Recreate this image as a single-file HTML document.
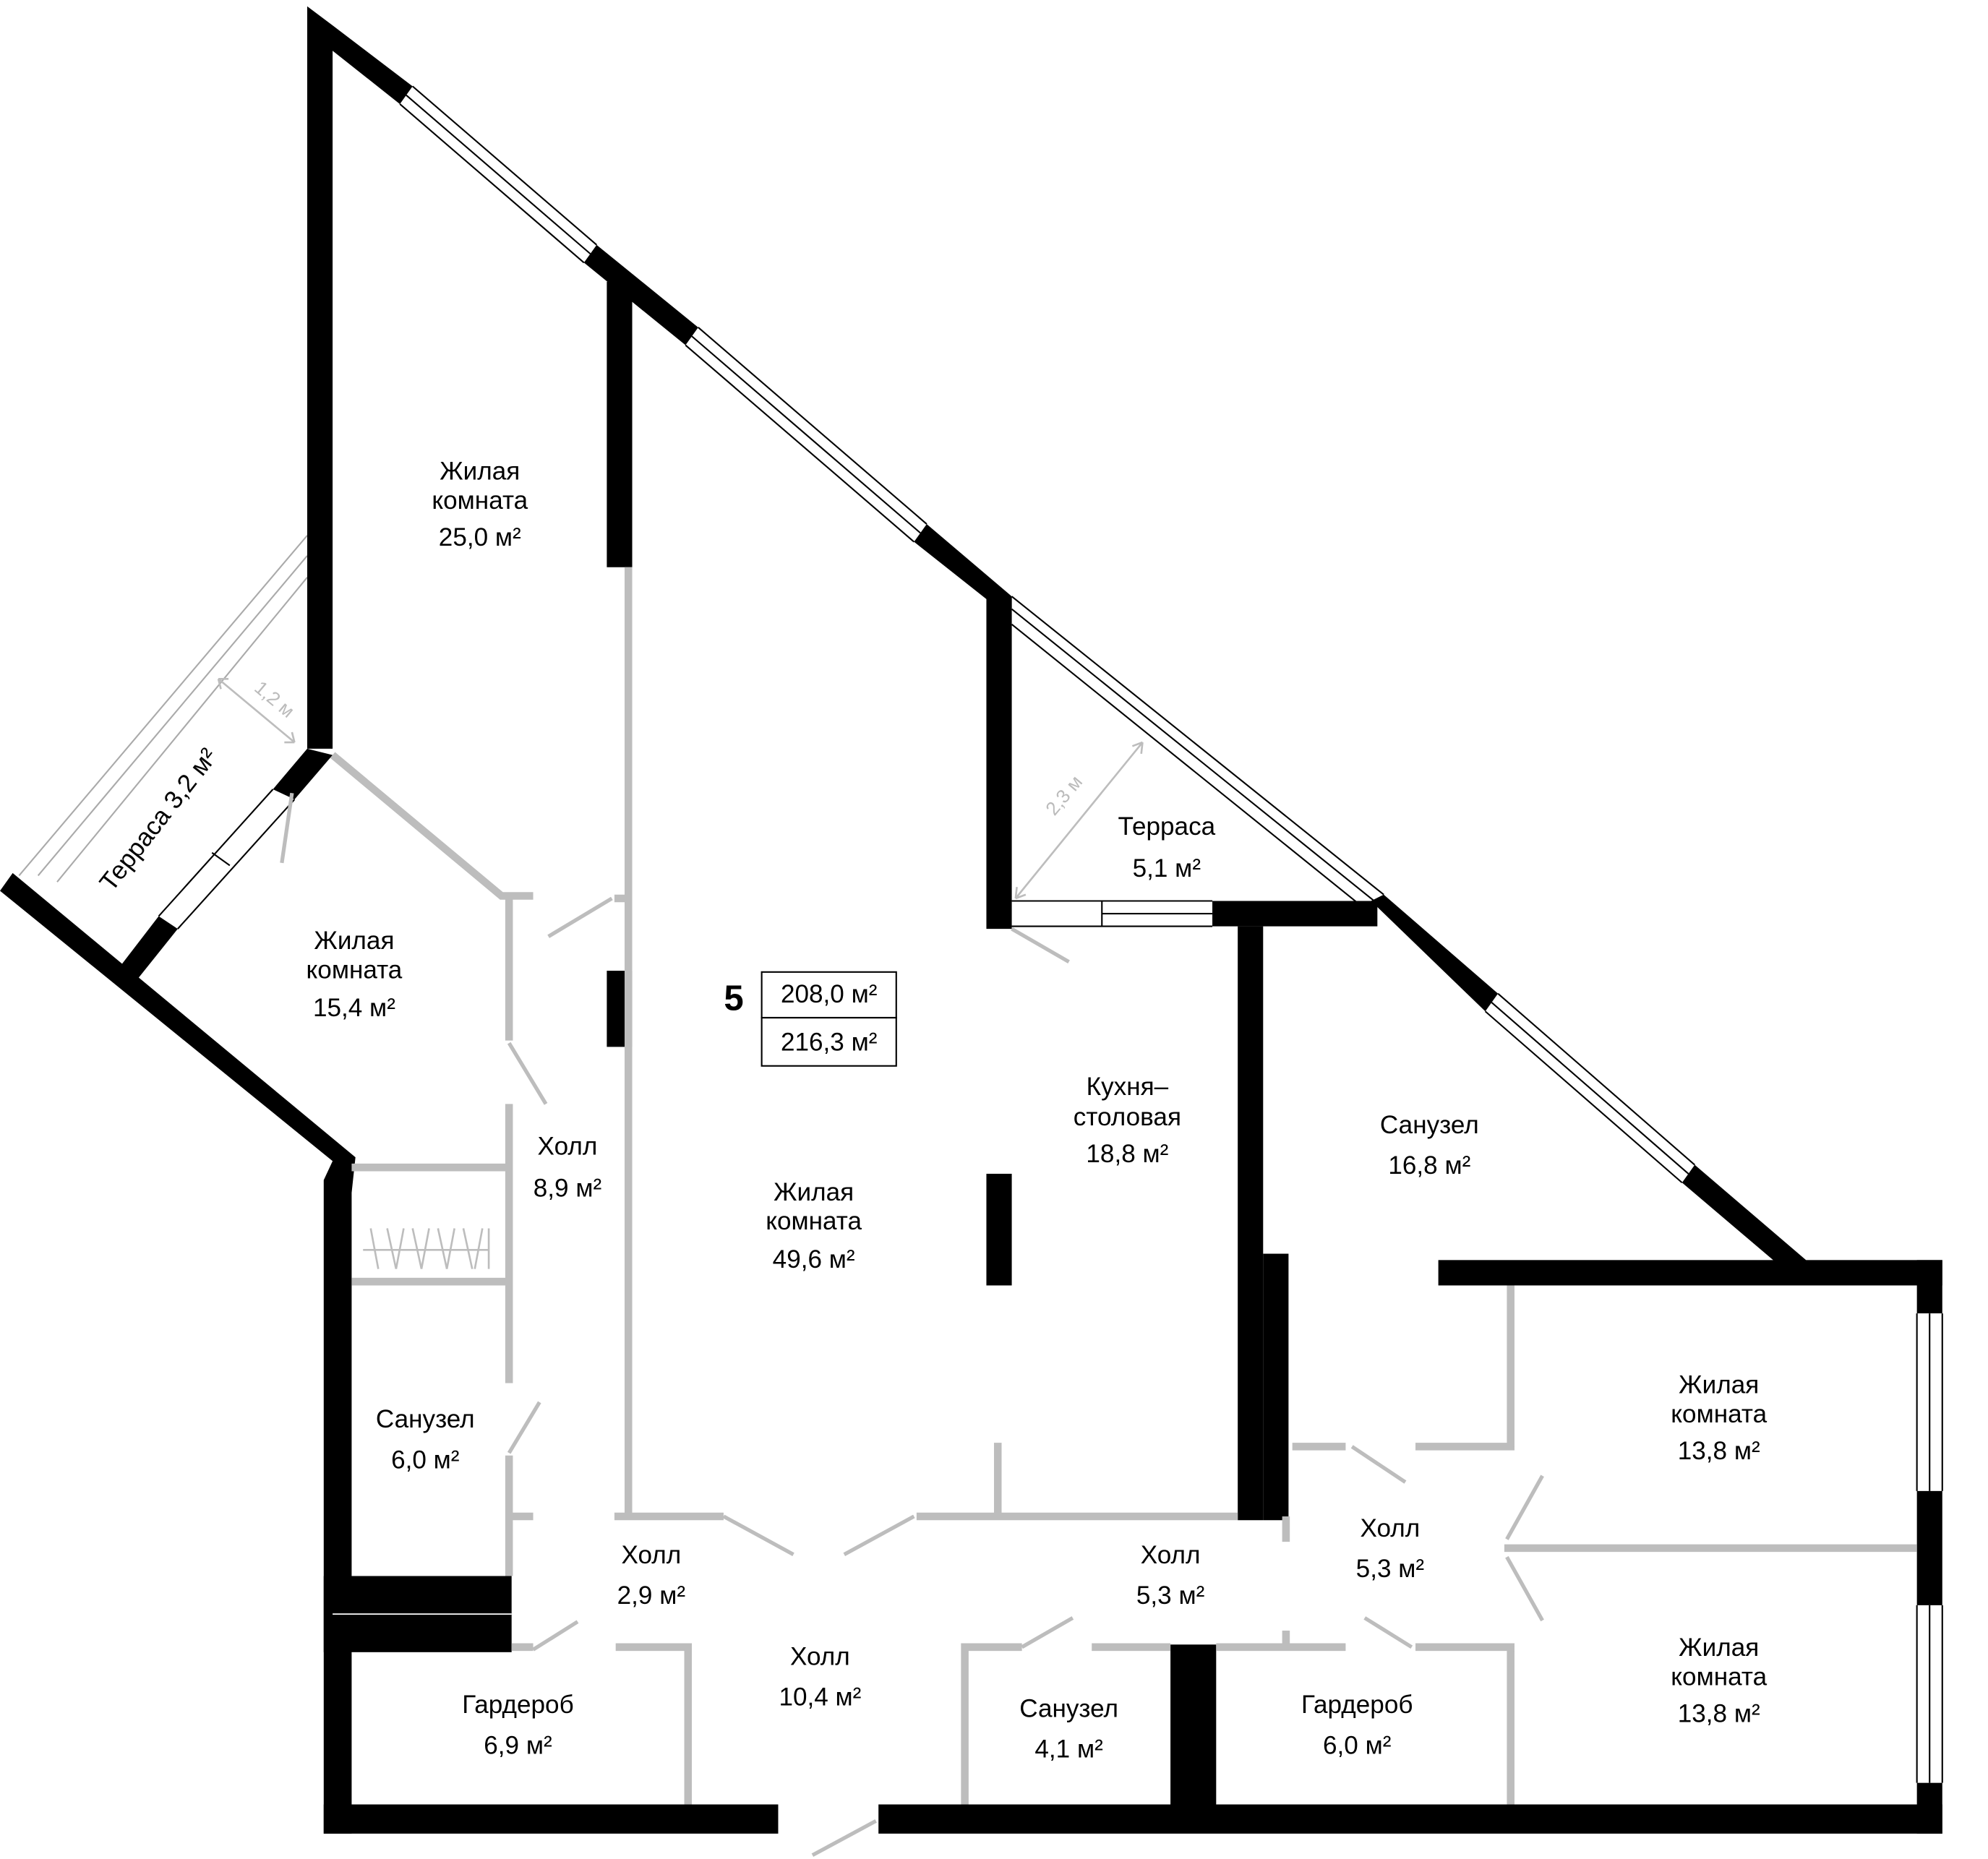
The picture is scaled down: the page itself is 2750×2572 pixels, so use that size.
<!DOCTYPE html>
<html><head><meta charset="utf-8"><style>
html,body{margin:0;padding:0;background:#fff;}
svg{display:block;}
text{font-family:"Liberation Sans","Noto Sans CJK JP",sans-serif;font-size:20px;fill:#000;text-anchor:middle;}
</style></head><body>
<svg width="2750" height="2572" viewBox="0 0 1566 1465" preserveAspectRatio="none" xmlns="http://www.w3.org/2000/svg">
<rect width="1600" height="1500" fill="#fff"/>
<g stroke="#000" stroke-width="1.2" fill="none">
<path d="M320,75 L465,200 M315,82 L460,207 M325,68 L470,193"/>
<path d="M545,265 L725,420 M540,272 L720,427 M550,258 L730,413"/>
<path d="M797,480 L1085,712 M797,492 L1070,712 M797,470 L1090,705"/>
<path d="M1175,790 L1330,925 M1170,797 L1325,932 M1180,783 L1335,918"/>
<path d="M1510,1035 V1175 M1520,1035 V1175 M1530,1035 V1175"/>
<path d="M1510,1265 V1405 M1520,1265 V1405 M1530,1265 V1405"/>
<path d="M797,710 H955 M797,730 H955 M868,710 V730 M868,720 H955"/>
<path d="M215,622 L125,722 M232,630 L140,732 M167,672 L181,682"/>
</g>
<g stroke="#aaa" stroke-width="1.2" fill="none">
<path d="M242,422 L15,690 M242,438 L30,690 M242,455 L45,695"/>
</g>
<g fill="#000" stroke="none">
<polygon points="242,5 262,20 325,68 315,82 262,40 262,590 242,590"/>
<polygon points="460,207 470,193 550,258 540,272"/>
<polygon points="720,427 730,413 797,470 797,480 787,480"/>
<rect x="478" y="222" width="20" height="225"/>
<rect x="478" y="765" width="20" height="60"/>
<rect x="777" y="470" width="20" height="262"/>
<rect x="955" y="710" width="130" height="20"/>
<polygon points="1080,710 1090,705 1180,783 1170,797"/>
<polygon points="1325,932 1335,918 1425,995 1405,1000"/>
<rect x="975" y="730" width="20" height="468"/>
<rect x="995" y="988" width="20" height="210"/>
<rect x="1133" y="993" width="397" height="20"/>
<rect x="1510" y="993" width="20" height="42"/>
<rect x="1510" y="1175" width="20" height="90"/>
<rect x="1510" y="1405" width="20" height="40"/>
<rect x="255" y="1422" width="358" height="23"/>
<rect x="692" y="1422" width="838" height="23"/>
<rect x="922" y="1296" width="36" height="130"/>
<rect x="777" y="925" width="20" height="88"/>
<rect x="255" y="1242" width="148" height="60"/>
<polygon points="255,930 262,915 0,702 10,688 280,912 277,940 277,1445 255,1445"/>
<polygon points="242,590 262,595 232,630 215,622"/>
<polygon points="125,722 140,732 108,772 92,765"/>
</g>
<line x1="262" y1="1272" x2="403" y2="1272" stroke="#fff" stroke-width="1"/>
<g stroke="#bdbdbd" stroke-width="6" fill="none">
<path d="M262,595 L395,706 H420 M401,706 V820"/>
<path d="M495,447 V1195 M484,708 H495 M484,1195 H570"/>
<path d="M401,870 V1090 M277,920 H401 M277,1010 H401"/>
<path d="M401,1147 V1242 M401,1195 H420"/>
<path d="M722,1195 H975 M786,1137 V1195"/>
<path d="M485,1298 H542 V1422 M403,1298 H420"/>
<path d="M760,1422 V1298 H805 M860,1298 H922 M958,1298 H1060 M1013,1285 V1298 M1115,1298 H1190 V1422"/>
<path d="M1018,1140 H1060 M1115,1140 H1190 V1013 M1185,1220 H1510 M1013,1195 V1215"/>
</g>
<g stroke="#bdbdbd" stroke-width="3" fill="none">
<path d="M432,738 L482,708 M401,822 L430,870 M401,1145 L425,1105"/>
<path d="M570,1195 L625,1225 M665,1225 L720,1195"/>
<path d="M420,1300 L455,1278 M805,1298 L845,1275 M1075,1275 L1112,1298"/>
<path d="M1065,1140 L1107,1168 M1215,1163 L1187,1213 M1187,1227 L1215,1277"/>
<path d="M797,732 L842,758 M640,1462 L690,1435 M222,680 L230,625"/>
</g>
<g stroke="#bdbdbd" stroke-width="1.5" fill="none">
<path d="M286,985 H385 M292,968 L298,1000 M305,968 L312,1000 M318,968 L312,1000 M325,968 L332,1000 M338,968 L332,1000 M345,968 L352,1000 M358,968 L352,1000 M365,968 L372,1000 M380,968 L374,1000 M385,968 V1000"/>
<path d="M172,535 L232,585 M172,535 L180,535 M172,535 L174,543 M232,585 L224,585 M232,585 L230,577"/>
<path d="M800,708 L900,585 M800,708 L801,699 M800,708 L808,705 M900,585 L892,588 M900,585 L899,594"/>
</g>
<text x="213" y="555" transform="rotate(40 213 555)" style="fill:#bbb;font-size:15px">1,2 м</text>
<text x="842" y="630" transform="rotate(-50 842 630)" style="fill:#bbb;font-size:15px">2,3 м</text>
<text x="130" y="650" transform="rotate(-52 130 650)" style="font-size:20px">Терраса   3,2 м²</text>
<text x="378" y="378">Жилая</text><text x="378" y="401">комната</text><text x="378" y="430">25,0 м²</text>
<text x="279" y="748">Жилая</text><text x="279" y="771">комната</text><text x="279" y="801">15,4 м²</text>
<text x="447" y="910">Холл</text><text x="447" y="943">8,9 м²</text>
<text x="335" y="1125">Санузел</text><text x="335" y="1157">6,0 м²</text>
<text x="641" y="946">Жилая</text><text x="641" y="969">комната</text><text x="641" y="999">49,6 м²</text>
<text x="919" y="658">Терраса</text><text x="919" y="691">5,1 м²</text>
<text x="888" y="863">Кухня–</text><text x="888" y="887">столовая</text><text x="888" y="916">18,8 м²</text>
<text x="1126" y="893">Санузел</text><text x="1126" y="925">16,8 м²</text>
<text x="1354" y="1098">Жилая</text><text x="1354" y="1121">комната</text><text x="1354" y="1150">13,8 м²</text>
<text x="1354" y="1305">Жилая</text><text x="1354" y="1328">комната</text><text x="1354" y="1357">13,8 м²</text>
<text x="1095" y="1211">Холл</text><text x="1095" y="1243">5,3 м²</text>
<text x="922" y="1232">Холл</text><text x="922" y="1264">5,3 м²</text>
<text x="513" y="1232">Холл</text><text x="513" y="1264">2,9 м²</text>
<text x="646" y="1312">Холл</text><text x="646" y="1344">10,4 м²</text>
<text x="408" y="1350">Гардероб</text><text x="408" y="1382">6,9 м²</text>
<text x="842" y="1353">Санузел</text><text x="842" y="1385">4,1 м²</text>
<text x="1069" y="1350">Гардероб</text><text x="1069" y="1382">6,0 м²</text>
<rect x="600" y="766" width="106" height="36" fill="none" stroke="#000" stroke-width="1.2"/>
<rect x="600" y="802" width="106" height="38" fill="none" stroke="#000" stroke-width="1.2"/>
<text x="653" y="790">208,0 м²</text>
<text x="653" y="828">216,3 м²</text>
<text x="578" y="796" style="font-size:28px;font-weight:bold">5</text>
</svg>
</body></html>
